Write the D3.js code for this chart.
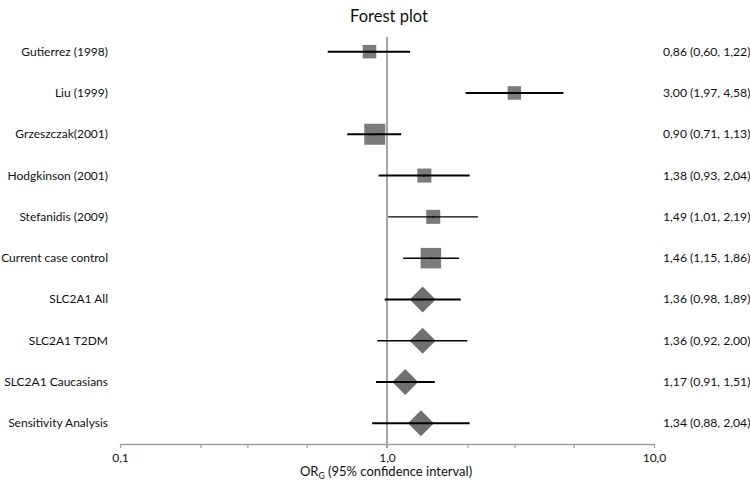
<!DOCTYPE html>
<html><head><meta charset="utf-8">
<script src="https://cdn.jsdelivr.net/npm/d3@7"></script>
<style>
html,body{margin:0;padding:0;background:#fff;}
svg{display:block;font-family:Lato,"Open Sans",sans-serif;}
</style></head>
<body><svg id="c" width="750" height="490"></svg>
<script>
const studies = ["Gutierrez (1998)","Liu (1999)","Grzeszczak(2001)","Hodgkinson (2001)","Stefanidis (2009)","Current case control","SLC2A1 All","SLC2A1 T2DM","SLC2A1 Caucasians","Sensitivity Analysis"];
const orValues = [0.86,3.00,0.90,1.38,1.49,1.46,1.36,1.36,1.17,1.34];
const lowerCI = [0.60,1.97,0.71,0.93,1.01,1.15,0.98,0.92,0.91,0.88];
const upperCI = [1.22,4.58,1.13,2.04,2.19,1.86,1.89,2.00,1.51,2.04];
const markerType = ["square","square","square","square","square","square","diamond","diamond","diamond","diamond"];
const weights = [13.5,13.5,21,14,14,20.5,26,26,26,26];
const ciText = ["0,86 (0,60, 1,22)","3,00 (1,97, 4,58)","0,90 (0,71, 1,13)","1,38 (0,93, 2,04)","1,49 (1,01, 2,19)","1,46 (1,15, 1,86)","1,36 (0,98, 1,89)","1,36 (0,92, 2,00)","1,17 (0,91, 1,51)","1,34 (0,88, 2,04)"];
const majorTicks = [0.1,1,10];
const minorTicks = [0.2,0.3,0.5,2,3,5];
const tickLabels = ["0,1","1,0","10,0"];

const rows = studies.map((s,i)=>({name:s, or:orValues[i], lo:lowerCI[i], hi:upperCI[i], type:markerType[i], w:weights[i], txt:ciText[i]}));
const lineW = [2,2,2,2,1.3,1.5,2,1.6,2,2];

const svg = d3.select("#c");
const x = d3.scaleLog().domain([0.1,10]).range([120,654]);
const y = d3.scaleBand().domain(studies).range([31,444]);
const size = d3.scaleLinear().domain([0,26]).range([0,26]);
const axisY = 444;

svg.append("text").attr("x",389).attr("y",22).attr("text-anchor","middle")
  .attr("font-size",16.5).attr("fill","#111").text("Forest plot");

// reference line
svg.append("line").attr("x1",x(1)).attr("x2",x(1)).attr("y1",37).attr("y2",axisY+4)
  .attr("stroke","#a6a6a6").attr("stroke-width",2);

// axis
const axis = d3.axisBottom(x).tickValues(majorTicks.concat(minorTicks))
  .tickFormat(d=>{const i=majorTicks.indexOf(d); return i>=0?tickLabels[i]:"";})
  .tickSizeInner(4).tickSizeOuter(0).tickPadding(5);
const ag = svg.append("g").attr("transform",`translate(0,${axisY})`).call(axis);
ag.select(".domain").attr("stroke","#a0a0a0").attr("stroke-width",1.3);
ag.selectAll(".tick line").attr("stroke","#a0a0a0").attr("stroke-width",1.2);
ag.selectAll(".tick text").attr("font-size",12).attr("fill","#111").attr("font-family","Lato,'Open Sans',sans-serif");

// axis title
const at = svg.append("text").attr("x",386).attr("y",476).attr("text-anchor","middle").attr("font-size",13).attr("fill","#111");
at.append("tspan").text("OR");
at.append("tspan").attr("font-size",8.5).attr("dy",3).text("G");
at.append("tspan").attr("dy",-3).text(" (95% confidence interval)");

const g = svg.append("g");
rows.forEach((r,i)=>{
  const cy = y(r.name)+y.bandwidth()/2;
  g.append("text").attr("x",108).attr("y",cy+4).attr("text-anchor","end").attr("font-size",12).attr("fill","#111").text(r.name);
  g.append("text").attr("x",663).attr("y",cy+4).attr("text-anchor","start").attr("font-size",12.2).attr("fill","#111").text(r.txt);
  const cx = x(r.or), s = size(r.w);
  if(r.type==="square"){
    g.append("rect").attr("x",cx-s/2).attr("y",cy-s/2).attr("width",s).attr("height",s).attr("fill","#7b7b7b");
  } else {
    g.append("path").attr("d",`M${cx-s/2},${cy}L${cx},${cy-s/2}L${cx+s/2},${cy}L${cx},${cy+s/2}Z`).attr("fill","#707070");
  }
  g.append("line").attr("x1",x(r.lo)).attr("x2",x(r.hi)).attr("y1",cy).attr("y2",cy)
    .attr("stroke","#000").attr("stroke-width",lineW[i]);
  if(r.type==="square") g.append("rect").attr("x",cx-1).attr("y",cy-1).attr("width",2).attr("height",2).attr("fill","#111");
});
</script></body></html>
